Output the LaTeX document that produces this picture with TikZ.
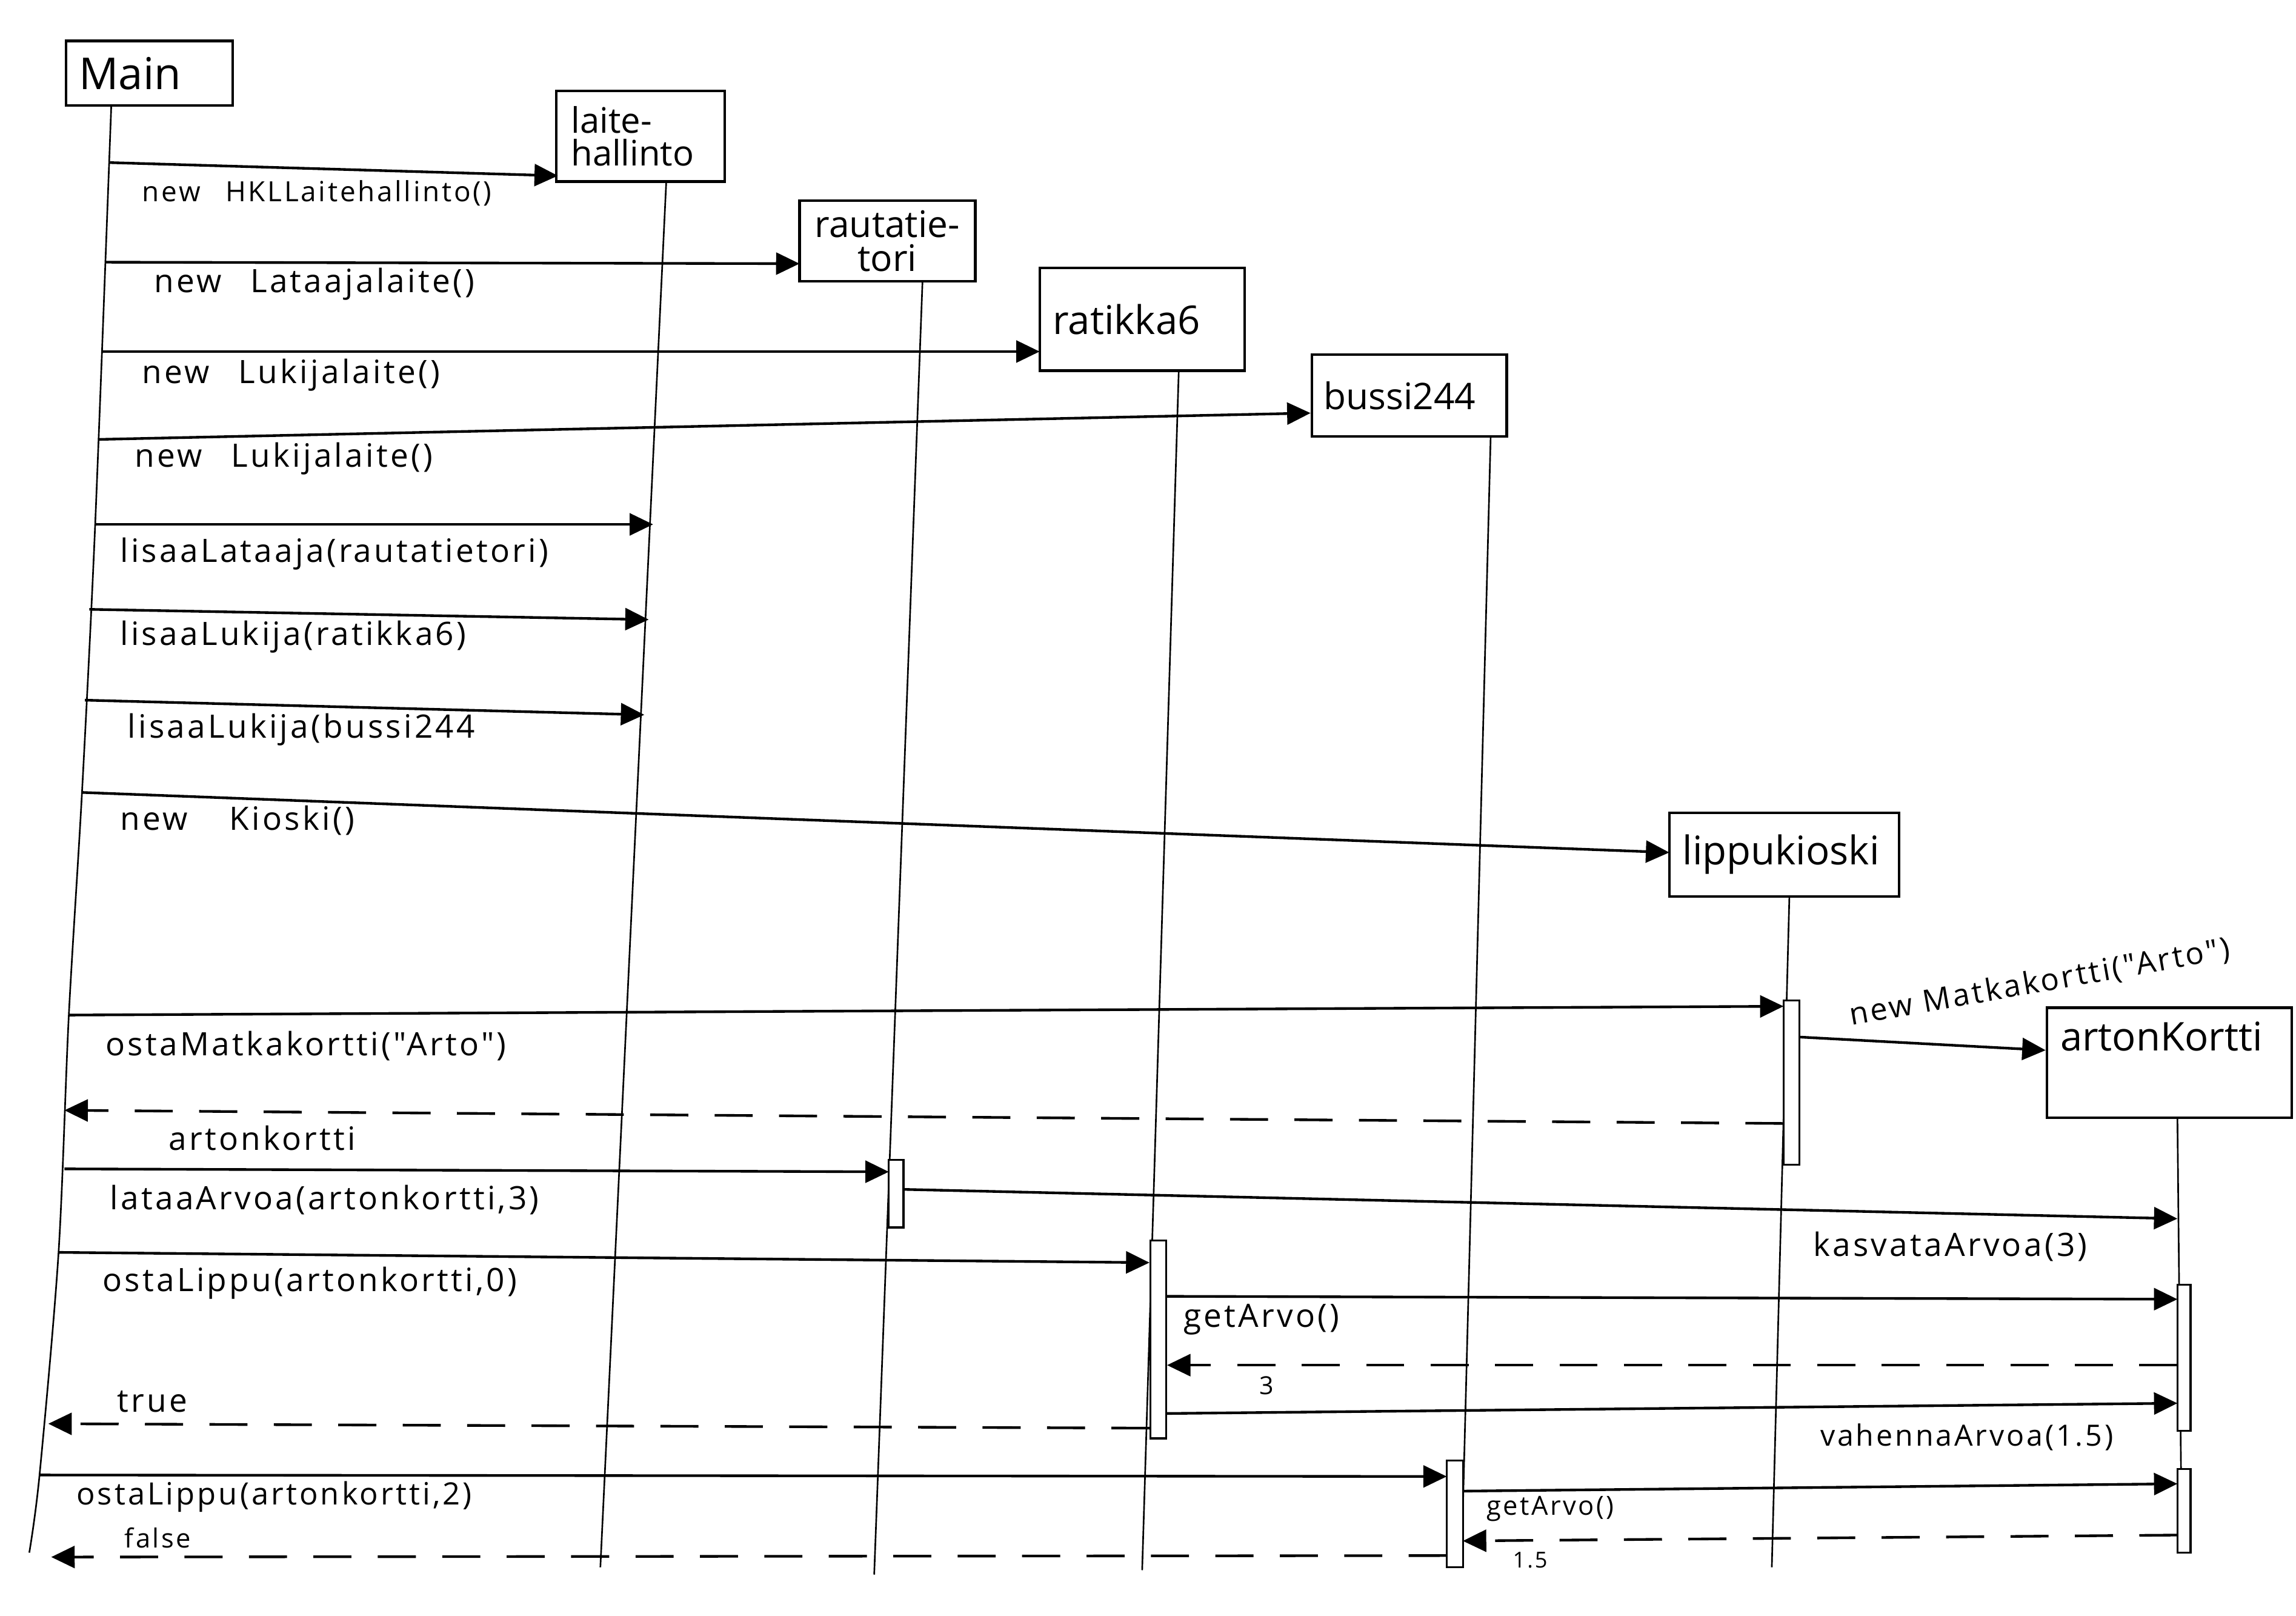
\documentclass[tikz,border=0pt]{standalone}
\usepackage{fontspec}
\setmainfont{Open Sans}[Ligatures=TeXOff]
\newfontfamily\hand{Open Sans}[LetterSpace=8, Ligatures=TeXOff]
\usetikzlibrary{arrows.meta}
\newcommand\gapw{\hspace{0.9em}}
\begin{document}
\begin{tikzpicture}[x=1pt,y=-1pt,
  obj/.style={draw, line width=1.8pt, inner xsep=9pt, inner ysep=2pt, align=left},
  life/.style={line width=1.1pt},
  msg/.style={line width=1.8pt, -{Triangle[length=16pt,width=15pt]}},
  ret/.style={msg, dash pattern=on 26pt off 18pt},
  act/.style={draw, fill=white, line width=1.3pt, inner sep=0pt, minimum width=11pt},
  lbl/.style={anchor=west, inner sep=0pt, font=\hand\fontsize{22}{26}\selectfont}]
\fill[white] (0,0) rectangle (1568,1103);
\useasboundingbox (0,0) rectangle (1568,1103);

% objects
\node[obj, minimum height=44pt, text width=96pt, font=\fontsize{30}{32}\selectfont] (main) at (102,50) {Main};
\node[obj, minimum height=62pt, text width=95pt, inner xsep=10pt, font=\fontsize{24}{22}\selectfont] (laite) at (437.5,93) {laite-\\hallinto};
\node[obj, minimum height=55pt, text width=102pt, align=center, font=\fontsize{25}{23}\selectfont] (rauta) at (606,164.5) {rautatie-\\tori};
\node[obj, minimum height=70pt, text width=122pt, font=\fontsize{27}{30}\selectfont] (ratikka) at (780,218) {ratikka6};
\node[obj, minimum height=56pt, text width=117pt, inner xsep=8pt, font=\fontsize{25}{28}\selectfont] (bussi) at (962.5,270) {bussi244};
\node[obj, minimum height=57pt, text width=139pt, font=\fontsize{27}{30}\selectfont] (kioski) at (1218.5,583.5) {lippukioski};
\node[obj, minimum height=75pt, text width=149pt, font=\fontsize{27}{28}\selectfont] (kortti) at (1481.5,725.5) {artonKortti\\\strut};

% lifelines
\coordinate (mainT) at (76,72);   \coordinate (mainB) at (20,1060);
\coordinate (laiteT) at (455,124); \coordinate (laiteB) at (410,1070);
\coordinate (rautaT) at (630,192); \coordinate (rautaB) at (597,1075);
\coordinate (ratikkaT) at (805,253); \coordinate (ratikkaB) at (780,1072);
\coordinate (bussiT) at (1018,298); \coordinate (bussiB) at (998,1070);
\coordinate (kioskiT) at (1222,612); \coordinate (kioskiB) at (1210,1070);
\coordinate (korttiT) at (1487,763); \coordinate (korttiB) at (1490,1058);

\draw[life] plot[smooth] coordinates {(mainT) (65,358) (56,541) (47,693) (40,855) (27,1007) (mainB)};
\draw[life] (laiteT) -- (laiteB);
\draw[life] (rautaT) -- (rautaB);
\draw[life] (ratikkaT) -- (ratikkaB);
\draw[life] (bussiT) -- (bussiB);
\draw[life] (kioskiT) -- (kioskiB);
\draw[life] (korttiT) -- (korttiB);

% activations
\node[act, minimum height=112pt] (A1) at (1223.5,739) {};
\node[act, minimum height=46pt, minimum width=10pt] (A2) at (612,815) {};
\node[act, minimum height=135pt] (A3) at (791,914.5) {};
\node[act, minimum height=100pt, minimum width=9pt] (A4) at (1491.5,927) {};
\node[act, minimum height=73pt] (A5) at (993.5,1033.5) {};
\node[act, minimum height=57pt, minimum width=9pt] (A6) at (1491.5,1031.5) {};

% message end points
\coordinate (m1s) at (75,111);   \coordinate (m1e) at (381,120);
\coordinate (m2s) at (72,179);   \coordinate (m2e) at (546,180);
\coordinate (m3s) at (70,240);   \coordinate (m3e) at (710,240);
\coordinate (m4s) at (67,300);   \coordinate (m4e) at (895,282);
\coordinate (m5s) at (65,358);   \coordinate (m5e) at (446,358);
\coordinate (m6s) at (61,416);   \coordinate (m6e) at (443,423);
\coordinate (m7s) at (58,478);   \coordinate (m7e) at (440,488);
\coordinate (m8s) at (56,541);   \coordinate (m8e) at (1140,582);
\coordinate (m9s) at (47,693);   \coordinate (m9e) at (1218,687);
\coordinate (m10s) at (1229,708); \coordinate (m10e) at (1397,717);
\coordinate (m11s) at (1218,767); \coordinate (m11e) at (44,758);
\coordinate (m12s) at (44,798);  \coordinate (m12e) at (607,800);
\coordinate (m13s) at (617,812); \coordinate (m13e) at (1487,832);
\coordinate (m14s) at (40,855);  \coordinate (m14e) at (785,862);
\coordinate (m15s) at (797,885); \coordinate (m15e) at (1487,887);
\coordinate (m16s) at (1487,932); \coordinate (m16e) at (797,932);
\coordinate (m17s) at (797,965); \coordinate (m17e) at (1487,958);
\coordinate (m18s) at (785,975); \coordinate (m18e) at (33,972);
\coordinate (m19s) at (27,1007); \coordinate (m19e) at (988,1008);
\coordinate (m20s) at (999,1018); \coordinate (m20e) at (1487,1013);
\coordinate (m21s) at (1487,1048); \coordinate (m21e) at (999,1052);
\coordinate (m22s) at (988,1062); \coordinate (m22e) at (35,1063);

\draw[msg] (m1s) -- (m1e);
\draw[msg] (m2s) -- (m2e);
\draw[msg] (m3s) -- (m3e);
\draw[msg] (m4s) -- (m4e);
\draw[msg] (m5s) -- (m5e);
\draw[msg] (m6s) -- (m6e);
\draw[msg] (m7s) -- (m7e);
\draw[msg] (m8s) -- (m8e);
\draw[msg] (m9s) -- (m9e);
\draw[msg] (m10s) -- (m10e);
\draw[ret] (m11s) -- (m11e);
\draw[msg] (m12s) -- (m12e);
\draw[msg] (m13s) -- (m13e);
\draw[msg] (m14s) -- (m14e);
\draw[msg] (m15s) -- (m15e);
\draw[ret] (m16s) -- (m16e);
\draw[msg] (m17s) -- (m17e);
\draw[ret] (m18s) -- (m18e);
\draw[msg] (m19s) -- (m19e);
\draw[msg] (m20s) -- (m20e);
\draw[ret] (m21s) -- (m21e);
\draw[ret] (m22s) -- (m22e);

% labels
\node[lbl, font=\hand\fontsize{19}{22}\selectfont] (l1) at (97,132) {new\gapw HKLLaitehallinto()};
\node[lbl] (l2) at (105,194) {new\gapw Lataajalaite()};
\node[lbl] (l3) at (97,256) {new\gapw Lukijalaite()};
\node[lbl] (l4) at (92,313) {new\gapw Lukijalaite()};
\node[lbl] (l5) at (82,378) {lisaaLataaja(rautatietori)};
\node[lbl] (l6) at (82,435) {lisaaLukija(ratikka6)};
\node[lbl] (l7) at (87,498) {lisaaLukija(bussi244};
\node[lbl] (l8) at (82,560) {new\hspace{1.3em}Kioski()};
\node[lbl] (l9) at (72,714) {ostaMatkakortti("Arto")};
\node[lbl, anchor=center, rotate=10, font=\hand\fontsize{21}{24}\selectfont] (l10) at (1393,671) {new Matkakortti("Arto")};
\node[lbl] (l11) at (115,777) {artonkortti};
\node[lbl] (l12) at (75,819) {lataaArvoa(artonkortti,3)};
\node[lbl] (l13) at (1238,851) {kasvataArvoa(3)};
\node[lbl] (l14) at (70,876) {ostaLippu(artonkortti,0)};
\node[lbl] (l15) at (808,901) {getArvo()};
\node[lbl, font=\hand\fontsize{17}{19}\selectfont] (l16) at (860,946) {3};
\node[lbl, font=\hand\fontsize{20}{24}\selectfont] (l17) at (1243,981) {vahennaArvoa(1.5)};
\node[lbl] (l18) at (80,957) {true};
\node[lbl, font=\hand\fontsize{21}{24}\selectfont] (l19) at (52,1022) {ostaLippu(artonkortti,2)};
\node[lbl, font=\hand\fontsize{18}{20}\selectfont] (l20) at (1015,1030) {getArvo()};
\node[lbl, font=\hand\fontsize{15}{17}\selectfont] (l21) at (1033,1065) {1.5};
\node[lbl, font=\hand\fontsize{18}{20}\selectfont] (l22) at (85,1050) {false};
\end{tikzpicture}
\end{document}
